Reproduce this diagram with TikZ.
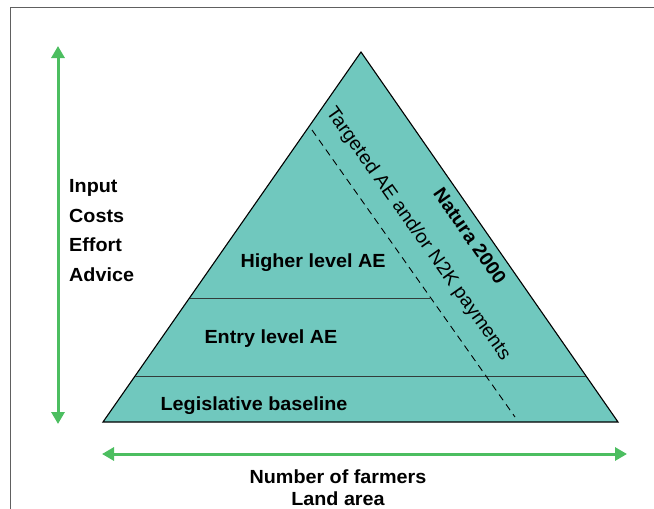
\documentclass[tikz,border=0pt]{standalone}
\usepackage{fontspec}
\setmainfont{Liberation Sans}[FakeStretch=1.04]
\usetikzlibrary{arrows.meta}
\definecolor{pyrfill}{RGB}{112,200,190}
\definecolor{arrowgreen}{RGB}{76,190,96}
\definecolor{framegray}{RGB}{96,96,96}
\definecolor{levelline}{RGB}{50,60,58}
\begin{document}
\begin{tikzpicture}[x=1pt,y=-1pt,
  lbl/.style={font=\fontsize{19}{22}\selectfont\bfseries, inner sep=0pt},
  slant/.style={font=\fontsize{19}{22}\selectfont, inner sep=0pt},
  greenarrow/.style={arrowgreen, line width=3pt, {Triangle[length=12pt,width=13pt]}-{Triangle[length=12pt,width=13pt]}},
  levelstyle/.style={levelline, line width=0.9pt}]
\useasboundingbox (0,0) rectangle (654,509);
% frame
\draw[framegray, line width=1.6pt] (10.5,509) -- (10.5,7.5) -- (654,7.5);
% pyramid
\coordinate (apex) at (361,52);
\coordinate (bl) at (103,422);
\coordinate (br) at (618,422);
\filldraw[fill=pyrfill, draw=black, line width=1.1pt, line join=miter] (apex) -- (br) -- (bl) -- cycle;
% level lines
\coordinate (l1a) at (135,376);
\coordinate (l1b) at (586,376);
\coordinate (l2a) at (190,298);
\coordinate (l2b) at (430,298);
\draw[levelstyle] (l1a) -- (l1b);
\draw[levelstyle] (l2a) -- (l2b);
% dashed line
\coordinate (d1) at (312,130);
\coordinate (d2) at (515,417);
\draw[black, line width=0.9pt, dash pattern=on 7pt off 5pt] (d1) -- (d2);
% labels inside
\node[lbl, anchor=base] (higher) at (313,267) {Higher level AE};
\node[lbl, anchor=base] (entry) at (271,343) {Entry level AE};
\node[lbl, anchor=base] (legis) at (254,410) {Legislative baseline};
\node[lbl, rotate=-55.2] (natura) at (470,236) {Natura 2000};
\node[slant, rotate=-54.7] (targeted) at (418,234) {Targeted AE and/or N2K payments};
% vertical arrow
\coordinate (vtop) at (58,46);
\coordinate (vbot) at (58,424);
\draw[greenarrow] (vtop) -- (vbot);
% horizontal arrow
\coordinate (hl) at (102,454);
\coordinate (hr) at (627,454);
\draw[greenarrow] (hl) -- (hr);
% left labels
\node[lbl, anchor=base west] (input) at (69,192.5) {Input};
\node[lbl, anchor=base west] (costs) at (69,222.5) {Costs};
\node[lbl, anchor=base west] (effort) at (69,251.8) {Effort};
\node[lbl, anchor=base west] (advice) at (69,281) {Advice};
% bottom labels
\node[lbl, anchor=base] (farmers) at (338,483) {Number of farmers};
\node[lbl, anchor=base] (land) at (338,505) {Land area};
\end{tikzpicture}
\end{document}
